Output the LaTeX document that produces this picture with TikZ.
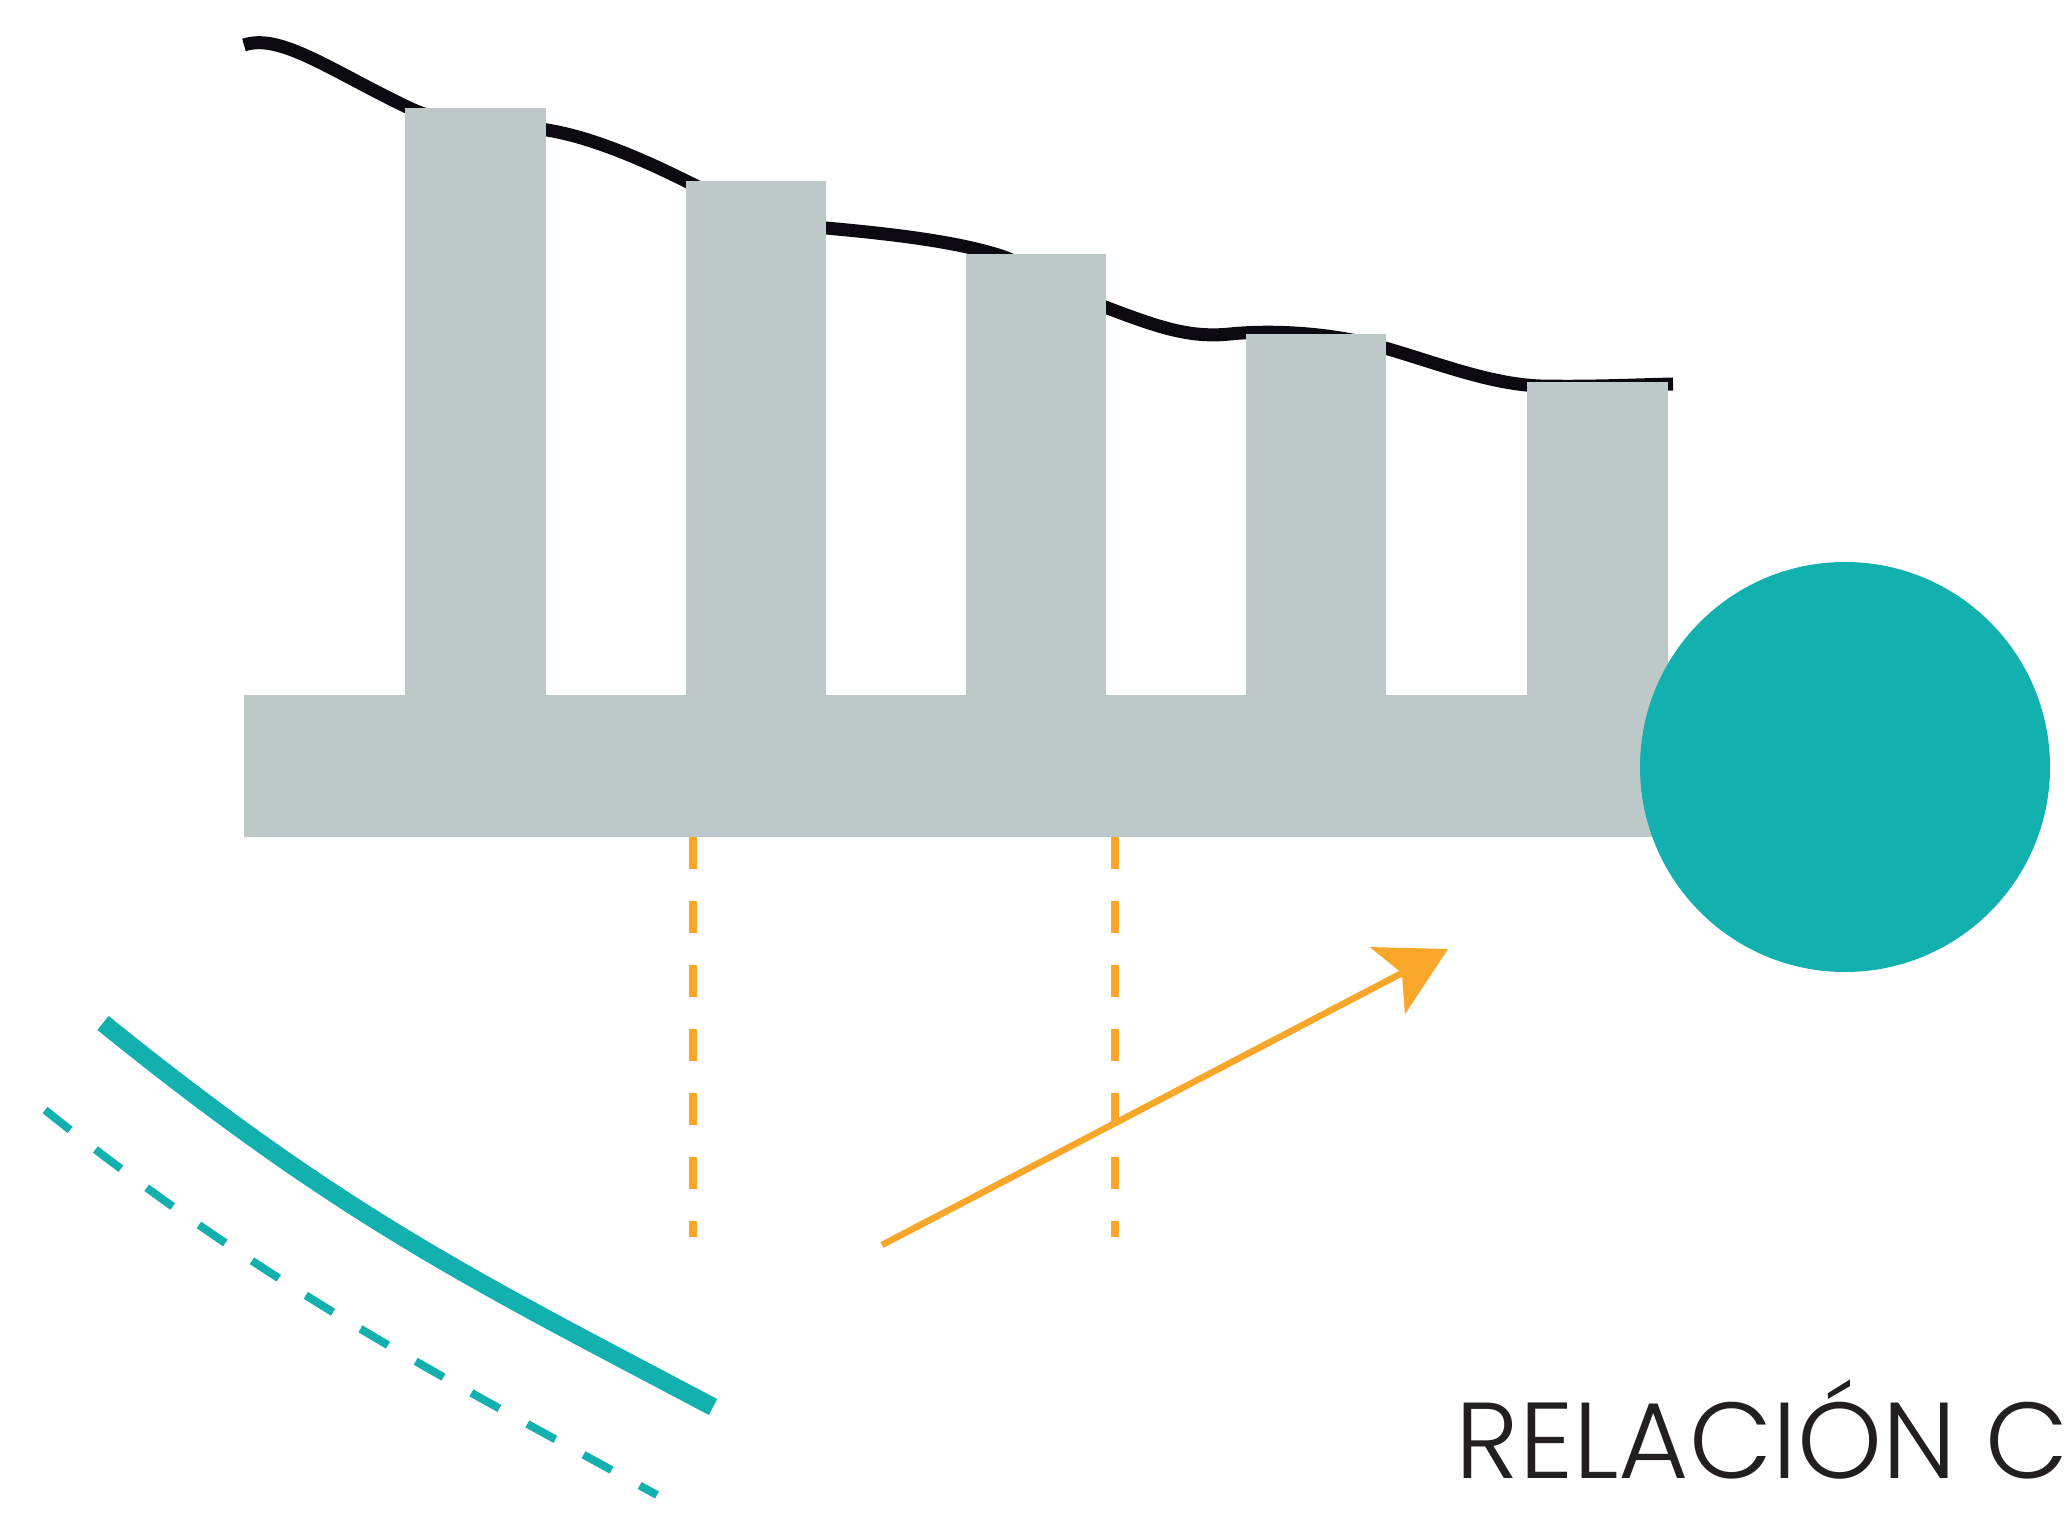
\documentclass[tikz,border=0pt]{standalone}
\usepackage{fontspec}
\setmainfont{Poppins}
\IfFontExistsTF{Poppins Light}
  {\newfontfamily\rotulofont{Poppins Light}}
  {\newfontfamily\rotulofont{Poppins}}
\usetikzlibrary{arrows.meta}
\definecolor{grisbarra}{HTML}{BDC9C8}
\definecolor{turquesa}{HTML}{12B0AE}
\definecolor{naranja}{HTML}{F9A72B}
\definecolor{tinta}{HTML}{0C0A10}
\definecolor{rotulo}{HTML}{231F20}

\begin{document}
\begin{tikzpicture}[x=0.01cm,y=-0.01cm,
  rayita/.style={line width=0.08cm,dash pattern=on 0.32cm off 0.32cm},
  barra/.style={fill=grisbarra}]
  \useasboundingbox (0,0) rectangle (2069,1528);
  % curva detras de las barras
  \coordinate (curva-ini) at (244,45);
  \coordinate (curva-fin) at (1673,384);
  \draw[tinta,line width=0.13cm] (curva-ini)
    .. controls (280,33) and (330,70) .. (407,107)
    .. controls (457,131) and (497,120) .. (547,130)
    .. controls (590,137) and (640,158) .. (688,182)
    .. controls (730,203) and (780,223) .. (826,228)
    .. controls (880,233) and (950,240) .. (998,255)
    .. controls (1030,265) and (1075,297) .. (1105,307)
    .. controls (1160,328) and (1190,338) .. (1230,334)
    .. controls (1270,330) and (1330,332) .. (1385,348)
    .. controls (1440,364) and (1490,384) .. (1540,386)
    .. controls (1590,387) and (1630,385) .. (curva-fin);
  % barras y base
  \fill[barra] (405,108) rectangle (546,837);
  \fill[barra] (686,181) rectangle (826,837);
  \fill[barra] (966,254) rectangle (1106,837);
  \fill[barra] (1246,334) rectangle (1386,837);
  \fill[barra] (1527,382) rectangle (1668,837);
  \fill[barra] (244,695) rectangle (1668,837);
  \fill[turquesa] (1845,767) circle[radius=205];
  % guias naranjas
  \coordinate (guia1-a) at (693,837);
  \coordinate (guia1-b) at (693,1237);
  \coordinate (guia2-a) at (1115,837);
  \coordinate (guia2-b) at (1115,1237);
  \draw[rayita,naranja] (guia1-a) -- (guia1-b);
  \draw[rayita,naranja] (guia2-a) -- (guia2-b);
  \coordinate (flecha-ini) at (882,1245);
  \coordinate (flecha-fin) at (1448,949);
  \draw[naranja,line width=0.065cm,
    -{Stealth[length=0.68cm,width=0.75cm,inset=0.16cm]}] (flecha-ini) -- (flecha-fin);
  % trazos turquesa
  \coordinate (linea-ini) at (103,1023);
  \coordinate (linea-fin) at (713,1407);
  \draw[turquesa,line width=0.18cm] (linea-ini)
    .. controls (343,1217) and (473,1280) .. (linea-fin);
  \coordinate (puntos-ini) at (45,1110);
  \coordinate (puntos-fin) at (657,1495);
  \draw[rayita,turquesa] (puntos-ini)
    .. controls (265,1286) and (437,1374) .. (puntos-fin);
  \node[anchor=base west,inner sep=0,text=rotulo,
    font=\rotulofont\fontsize{30.7}{32}\selectfont] (titulo) at (1455,1478) {RELACIÓN C};
\end{tikzpicture}
\end{document}
